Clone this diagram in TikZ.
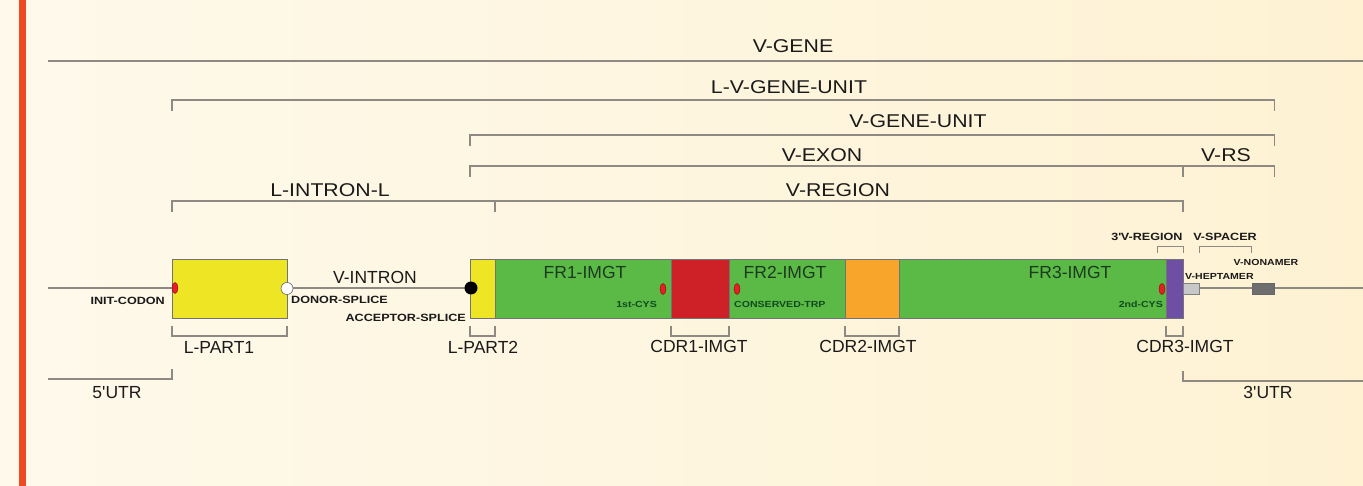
\documentclass[tikz,border=0pt]{standalone}
\usepackage{fontspec}
\setmainfont{Liberation Sans}
\newfontfamily\tagfont{Liberation Sans}[FakeStretch=1.2]
\newfontfamily\spanfont{Liberation Sans}[FakeStretch=1.15]
\usetikzlibrary{positioning,shapes.geometric}

\definecolor{bgleft}{HTML}{FEF9EB}
\definecolor{bgright}{HTML}{FEF2D3}
\definecolor{redbar}{HTML}{EE4A23}
\definecolor{lyellow}{HTML}{EEE625}
\definecolor{frgreen}{HTML}{5BBA46}
\definecolor{cdrred}{HTML}{CD2027}
\definecolor{cdrorange}{HTML}{F7A52B}
\definecolor{cdrpurple}{HTML}{6E4FA3}
\definecolor{rule}{HTML}{8E8A83}
\definecolor{ink}{HTML}{1A1A1A}
\definecolor{frink}{HTML}{1C3A20}
\definecolor{cysink}{HTML}{124A1F}
\definecolor{heptgray}{HTML}{C8C8C8}
\definecolor{nonagray}{HTML}{6E6E6E}
\definecolor{spot}{HTML}{E41F26}

\tikzset{
  lbl/.style={font=\fontsize{17.5}{20}\selectfont, text=ink, inner sep=0pt},
  spanlbl/.style={font=\spanfont\fontsize{18.5}{21}\selectfont, text=ink, inner sep=0pt},
  tag/.style={font=\tagfont\bfseries\fontsize{10.5}{12}\selectfont, text=ink, inner sep=0pt},
  smalltag/.style={font=\tagfont\bfseries\fontsize{8.8}{10}\selectfont, text=ink, inner sep=0pt},
  brk/.style={draw=rule, line width=1.5pt},
  seg/.style={draw=black!55, line width=0.8pt, inner sep=0pt, outer sep=0pt, minimum height=59},
  redspot/.style={ellipse, draw=red!60!black, line width=0.4pt, fill=spot, inner sep=0pt, minimum width=6, minimum height=11},
}

% bracket under a segment, opening upwards
\newcommand\lowbrace[1]{\draw[brk] ([yshift=-8pt]#1.south west) -- ++(0,10) -| ([yshift=-8pt]#1.south east);}

\begin{document}
\begin{tikzpicture}[x=1pt, y=-1pt]
    \useasboundingbox (0,0) rectangle (1363,486);
    \shade[left color=bgleft, right color=bgright] (0,0) rectangle (1363,486);
    \fill[redbar] (19,0) rectangle (26,486);

    % the gene, left to right
    \draw[rule, line width=1.2pt] (48,288) -- (1363,288);
    \node[seg, fill=lyellow, minimum width=115] (lpart1) at (229.5,288.5) {};
    \node[seg, fill=lyellow, minimum width=25] (lpart2) at (482.5,288.5) {};
    \node[seg, fill=frgreen, minimum width=176] (fr1) at (583,288.5) {};
    \node[seg, fill=cdrred, minimum width=58] (cdr1) at (700,288.5) {};
    \node[seg, fill=frgreen, minimum width=116] (fr2) at (787,288.5) {};
    \node[seg, fill=cdrorange, minimum width=54] (cdr2) at (872,288.5) {};
    \node[seg, fill=frgreen, minimum width=267] (fr3) at (1032.5,288.5) {};
    \node[seg, fill=cdrpurple, minimum width=17] (cdr3) at (1174.5,288.5) {};
    \node[draw=black!50, line width=0.6pt, fill=heptgray, inner sep=0pt, minimum width=16, minimum height=11] (heptamer) at (1191,288.5) {};
    \node[draw=black!60, line width=0.6pt, fill=nonagray, inner sep=0pt, minimum width=22, minimum height=11] (nonamer) at (1263,288.5) {};

    % splice sites and conserved positions
    \node[redspot] (initcodon) at (175,288) {};
    \node[circle, draw=black!60, line width=0.6pt, fill=white, inner sep=0pt, minimum size=12] (donor) at (lpart1.east) {};
    \node[circle, fill=black, inner sep=0pt, minimum size=13] (acceptor) at (471,288) {};
    \node[redspot] (cys1) at (663,289) {};
    \node[redspot] (trp) at (737,289) {};
    \node[redspot] (cys2) at (1162,289) {};

    % upper brackets
    \draw[brk] (48,61) -- (1363,61);
    \draw[brk] (lpart1.west |- 0,111) |- (nonamer.east |- 0,100) -- ++(0,11);
    \draw[brk] (lpart2.west |- 0,146) |- (nonamer.east |- 0,135) -- ++(0,11);
    \draw[brk] (lpart2.west |- 0,177) |- (nonamer.east |- 0,166) -- ++(0,11);
    \draw[brk] (cdr3.east |- 0,166) -- ++(0,11);
    \draw[brk] (lpart1.west |- 0,212) |- (cdr3.east |- 0,201) -- ++(0,11);
    \draw[brk] (fr1.west |- 0,201) -- ++(0,11);
    \draw[brk, line width=1pt] (1157,253) |- (cdr3.east |- 0,247) -- ++(0,6);
    \draw[brk, line width=1pt] (heptamer.east |- 0,253) |- (nonamer.west |- 0,247) -- ++(0,6);

    % lower brackets
    \lowbrace{lpart1}
    \lowbrace{lpart2}
    \lowbrace{cdr1}
    \lowbrace{cdr2}
    \lowbrace{cdr3}
    \draw[brk] (48,379) -| (lpart1.west |- 0,369);
    \draw[brk] (cdr3.east |- 0,371) -- ++(0,10) -- (1363,381);

    % labels
    \node[spanlbl] (vgene) at (793,46) {V-GENE};
    \node[spanlbl] (lvunit) at (789,87) {L-V-GENE-UNIT};
    \node[spanlbl] (vunit) at (918,121) {V-GENE-UNIT};
    \node[spanlbl] (vexon) at (822,155) {V-EXON};
    \node[spanlbl] (vrs) at (1226,155) {V-RS};
    \node[spanlbl] (lintron) at (330,190) {L-INTRON-L};
    \node[spanlbl] (vregion) at (838,190) {V-REGION};
    \node[lbl] (vintron) at (375,277) {V-INTRON};
    \node[lbl, text=frink] (fr1lbl) at (585,272) {FR1-IMGT};
    \node[lbl, text=frink] (fr2lbl) at (785,272) {FR2-IMGT};
    \node[lbl, text=frink] (fr3lbl) at (1070,272) {FR3-IMGT};
    \node[lbl] (lp1lbl) at (219,347) {L-PART1};
    \node[lbl] (lp2lbl) at (483,347) {L-PART2};
    \node[lbl] (cdr1lbl) at (699,346) {CDR1-IMGT};
    \node[lbl] (cdr2lbl) at (868,346) {CDR2-IMGT};
    \node[lbl] (cdr3lbl) at (1185,346) {CDR3-IMGT};
    \node[lbl] (utr5) at (117,393) {5\textquotesingle UTR};
    \node[lbl] (utr3) at (1268,392) {3\textquotesingle UTR};

    \node[tag, anchor=east] (initlbl) at (165,301) {INIT-CODON};
    \node[tag, anchor=west] (donorlbl) at (291,300) {DONOR-SPLICE};
    \node[tag, anchor=east] (acclbl) at (466,318) {ACCEPTOR-SPLICE};
    \node[smalltag, text=cysink, anchor=east] (cys1lbl) at (657,304) {1st-CYS};
    \node[smalltag, text=cysink, anchor=west] (trplbl) at (734,304) {CONSERVED-TRP};
    \node[smalltag, text=cysink, anchor=east] (cys2lbl) at (1163,304) {2nd-CYS};
    \node[tag] (v3lbl) at (1147,237) {3\textquotesingle V-REGION};
    \node[tag] (spacerlbl) at (1225,237) {V-SPACER};
    \node[smalltag] (nonalbl) at (1266,262) {V-NONAMER};
    \node[smalltag, anchor=west] (heptlbl) at (1185,276) {V-HEPTAMER};
\end{tikzpicture}
\end{document}
